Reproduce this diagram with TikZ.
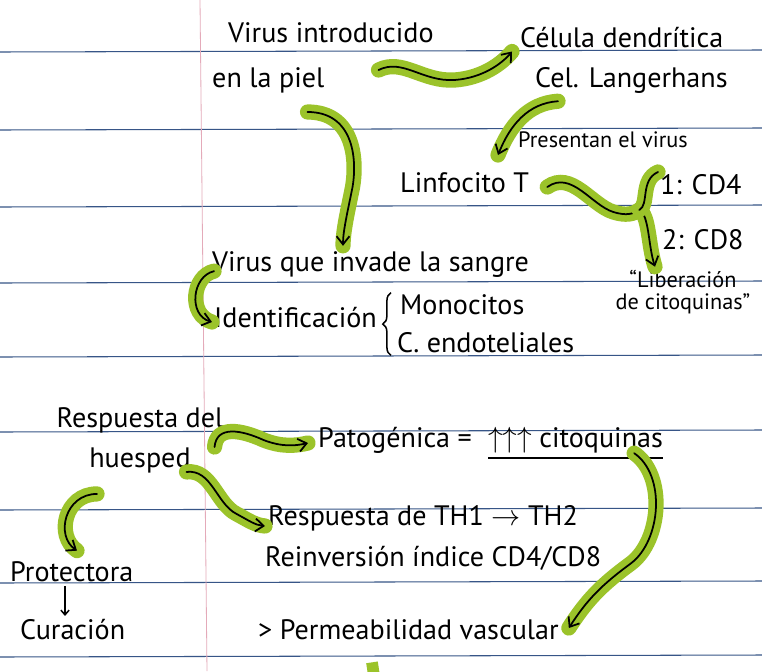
\documentclass[tikz,border=0pt]{standalone}
\usepackage{fontspec}
\setmainfont{PT Sans}
\usetikzlibrary{arrows.meta,calc,decorations.pathreplacing}

\definecolor{markercolor}{RGB}{155,195,42}
\definecolor{rulecolor}{RGB}{55,85,135}
\definecolor{margincolor}{RGB}{228,170,185}

\begin{document}
\begin{tikzpicture}[x=0.03cm, y=-0.03cm,
    txt/.style = {font=\fontsize{24}{34}\selectfont, inner sep=0pt, anchor=west},
    small/.style = {font=\fontsize{19}{19}\selectfont, inner sep=0pt},
    hlarrow/.style = {draw=black, line width=1.5pt, line cap=round,
        -{Straight Barb[length=7pt,width=11pt]},
        preaction={draw=markercolor, line width=13pt, line cap=round, -}},
    pen/.style = {draw=black, line width=1.3pt}]
    \useasboundingbox (0,0) rectangle (762,671);
    \fill[white] (0,0) rectangle (762,671);

    % hojas rayadas
    \foreach \y in {52,130,207,283,357,432,510,583,657}
        \draw[rulecolor, line width=0.9pt] (0,\y) -- (762,\y-2);
    \draw[margincolor, line width=0.7pt] (200,0) -- (207,671);

    % primera parte
    \node[txt] (virus) at (228,33) {Virus introducido};
    \node[txt] (piel) at (212,80) {en la piel};
    \node[txt] (celula) at (520,38) {Célula dendrítica};
    \node[txt] (langer) at (535,80) {Cel. Langerhans};
    \node[small, anchor=west] (presentan) at (518,140) {Presentan el virus};
    \node[txt] (linfo) at (400,183) {Linfocito T};
    \node[txt] (cd4) at (660,185) {1: CD4};
    \node[txt] (cd8) at (662,240) {2: CD8};
    \node[small, align=center] (liber) at (683,292) {“Liberación\\de citoquinas”};
    \node[txt] (sangre) at (212,265) {Virus que invade la sangre};
    \node[txt] (ident) at (214,318) {Identificación};
    \node[txt] (mono) at (400,305) {Monocitos};
    \node[txt] (endo) at (397,343) {C. endoteliales};

    % segunda parte
    \node[txt, anchor=center, align=center] (resp) at (140,440) {Respuesta del\\huesped};
    \node[txt] (pato) at (318,440) {Patogénica =};
    \node[txt] (cito) at (488,440) {$\uparrow\uparrow\uparrow$ citoquinas};
    \node[txt] (th) at (268,518) {Respuesta de TH1 $\rightarrow$ TH2};
    \node[txt] (reinv) at (265,558) {Reinversión índice CD4/CD8};
    \node[txt] (prot) at (10,572) {Protectora};
    \node[txt] (cur) at (20,630) {Curación};
    \node[txt] (perm) at (258,630) {> Permeabilidad vascular};

    \draw[pen] ([yshift=-4pt]cito.south west) -- ([yshift=-4pt]cito.south east);
    \draw[pen, decorate, decoration={brace, amplitude=7pt}]
        ($(endo.south west)+(-6,2)$) -- ($(mono.north west)+(-9,-2)$);
    \draw[pen, -{Straight Barb[length=4pt,width=7pt]}, shorten <=3pt, shorten >=3pt]
        ($(prot.south west)+(55,0)$) -- ($(cur.north west)+(45,0)$);

    % flechas resaltadas
    \draw[hlarrow] ($(piel.east)+(54,-10)$) .. controls +(24,-12) and +(-32,2) .. +(76,10)
        .. controls +(28,-2) and +(-10,12) .. ($(celula.south west)+(-8,3)$);
    \draw[hlarrow] ($(langer.south west)+(23,8)$) .. controls +(-30,2) and +(12,-30) .. ($(presentan.west)+(-20,15)$);
    \draw[hlarrow] ($(piel.south east)+(-17,19)$) .. controls +(45,0) and +(5,-30) .. +(45,75)
        .. controls +(-5,25) and +(0,-15) .. ($(sangre.north west)+(131,-6)$);
    \draw[hlarrow] ($(linfo.east)+(18,4)$) .. controls +(24,-17) and +(-22,-7) .. +(66,25)
        .. controls +(13,4) and +(-6,4) .. +(92,23) coordinate (cusp)
        .. controls +(10,5) and +(-7,-22) .. ($(liber.north)+(-28,-3)$);
    \draw[hlarrow, -] (cusp) .. controls +(10,-5) and +(-18,8) .. ($(cd4.west)+(-2,-13)$);
    \draw[hlarrow] ($(sangre.south west)+(2,-7)$) .. controls +(-22,5) and +(-24,-7) .. ($(ident.west)+(-2,4)$);
    \draw[hlarrow] ($(resp.east)+(-9,7)$) .. controls +(2,-22) and +(-22,-10) .. +(49,-7)
        .. controls +(18,7) and +(-13,3) .. ($(pato.west)+(-10,3)$);
    \draw[hlarrow] ($(resp.south east)+(-37,-1)$) .. controls +(25,-3) and +(-20,-10) .. +(50,42)
        .. controls +(13,7) and +(-10,-1) .. ($(th.west)+(-3,8)$);
    \draw[hlarrow] ($(resp.south)+(-43,21)$) .. controls +(-32,0) and +(-22,-15) .. ($(prot.north west)+(67,-11)$);
    \draw[hlarrow] ($(cito.south east)+(-29,0)$) .. controls +(32,22) and +(30,-23) .. +(-3,110)
        .. controls +(-30,22) and +(18,-28) .. ($(perm.east)+(10,-2)$);
    \draw[markercolor, line width=10pt] ($(perm.south west)+(114,22)$) -- +(3,20);
\end{tikzpicture}
\end{document}
